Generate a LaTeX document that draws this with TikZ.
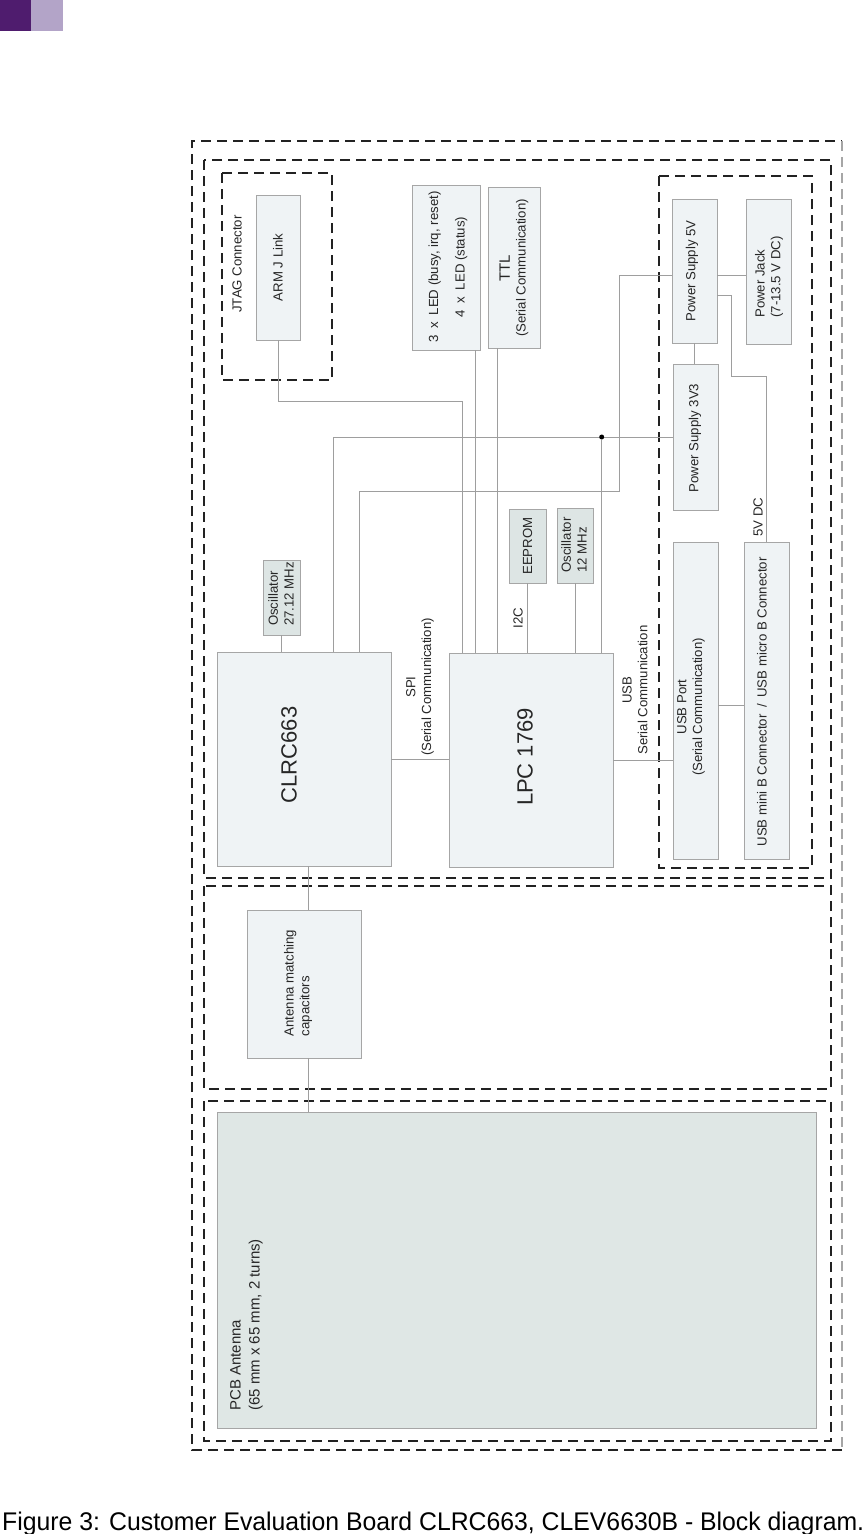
\documentclass[tikz,border=0pt]{standalone}
\usepackage{fontspec}
\setmainfont{Liberation Sans}
\usepackage{graphicx}
\definecolor{boxfill}{HTML}{EFF3F5}
\definecolor{boxdark}{HTML}{DDE5E4}
\definecolor{pcbfill}{HTML}{DFE7E5}
\definecolor{boxline}{HTML}{A6A6A6}
\definecolor{wirec}{HTML}{9E9E9E}
\definecolor{dashc}{HTML}{222222}
\definecolor{txt}{HTML}{262626}
\definecolor{purpleA}{HTML}{4F1C6E}
\definecolor{purpleB}{HTML}{B3A4C8}
\begin{document}
\begin{tikzpicture}[x=1pt,y=-1pt,
 blk/.style={draw=boxline, fill=boxfill, line width=0.8pt, inner sep=0pt, rectangle},
 blkd/.style={blk, fill=boxdark},
 wire/.style={draw=wirec, line width=0.8pt},
 zone/.style={draw=dashc, line width=1.8pt, dash pattern=on 10pt off 6pt},
 lbl/.style={rotate=90, text=txt, font=\fontsize{13.2}{15.8}\selectfont, inner sep=0pt, align=center},
 big/.style={rotate=90, text=txt, font=\fontsize{22}{26}\selectfont, inner sep=0pt},
 dot/.style={circle, fill=black, inner sep=0pt, minimum size=5pt},
]
\useasboundingbox (0,0) rectangle (866,1534);
% header squares
\fill[purpleA] (0,0) rectangle (31,31);
\fill[purpleB] (31,0) rectangle (63,31);

% dashed zones
\draw[zone] (842,1450) -- (192,1450) -- (192,141) -- (842,141);
\draw[zone, draw=gray!70, line width=1.2pt] (842,141) -- (842,1450);
\draw[zone] (204,160) rectangle (831,878);
\draw[zone] (204,886) rectangle (831,1089);
\draw[zone] (204,1101) rectangle (831,1441);
\draw[zone] (222,173) rectangle (332,380);
\draw[zone] (659,176) rectangle (812,868);

% blocks
\node[blk, minimum width=44pt, minimum height=145pt] (arm) at (278,267.5) {};
\node[blk, minimum width=68pt, minimum height=165pt] (led) at (446,267.5) {};
\node[blk, minimum width=52pt, minimum height=161pt] (ttl) at (514,267.5) {};
\node[blk, minimum width=45pt, minimum height=144pt] (ps5) at (694.5,271) {};
\node[blk, minimum width=45pt, minimum height=145pt] (jack) at (768.5,271.5) {};
\node[blk, minimum width=45pt, minimum height=146pt] (ps33) at (695.5,437) {};
\node[blkd, minimum width=37pt, minimum height=74pt] (eeprom) at (527.5,546) {};
\node[blkd, minimum width=36pt, minimum height=75pt] (osc12) at (575,545.5) {};
\node[blkd, minimum width=37pt, minimum height=75pt] (osc27) at (281.5,597.5) {};
\node[blk, minimum width=174pt, minimum height=214pt] (clrc) at (304,759) {};
\node[blk, minimum width=164pt, minimum height=214pt] (lpc) at (531,760) {};
\node[blk, minimum width=45pt, minimum height=317pt] (usbp) at (695.5,700.5) {};
\node[blk, minimum width=45pt, minimum height=317pt] (usbm) at (766.5,700.5) {};
\node[blk, minimum width=114pt, minimum height=148pt] (match) at (304,984) {};
\node[blk, fill=pcbfill, minimum width=599pt, minimum height=316pt] (pcb) at (516.5,1270) {};

% wires
\coordinate (armbend) at (462.7,401);
\draw[wire] (arm.south) |- (armbend) -- (armbend |- lpc.north);
\coordinate (ledout) at ([xshift=-5pt]led.south east);
\draw[wire] (ledout) -- (ledout |- lpc.north);
\coordinate (ttlout) at ([xshift=10pt]ttl.south west);
\draw[wire] (ttlout) -- (ttlout |- lpc.north);
\coordinate (clrcin1) at ([xshift=117pt]clrc.north west);
\draw[wire] (ps33.west) -| (clrcin1);
\node[dot] (jn) at (601.7,437) {};
\draw[wire] (jn) -- (jn |- lpc.north);
\coordinate (ps5l) at ([yshift=-4pt]ps5.west);
\coordinate (b5) at (619.3,491.7);
\coordinate (clrcin2) at ([xshift=143pt]clrc.north west);
\draw[wire] (ps5l) -| (b5) -| (clrcin2);
\coordinate (ps5r) at ([yshift=-4pt]ps5.east);
\draw[wire] (ps5r) -- (ps5r -| jack.west);
\draw[wire] (ps5.south) -- (ps5.south |- ps33.north);
\coordinate (ps5r2) at ([yshift=-24pt]ps5.east);
\coordinate (b6) at (731.7,376);
\draw[wire] (ps5r2) -| (b6) -| (usbm.north);
\coordinate (usbpr) at ([yshift=-4.5pt]usbp.east);
\draw[wire] (usbpr) -- (usbpr -| usbm.west);
\draw[wire] (lpc.east) -- (lpc.east -| usbp.west);
\draw[wire] (clrc.east) -- (clrc.east -| lpc.west);
\draw[wire] (osc27.south) -- (osc27.south |- clrc.north);
\draw[wire] (eeprom.south) -- (eeprom.south |- lpc.north);
\draw[wire] (osc12.south) -- (osc12.south |- lpc.north);
\coordinate (cm) at ([xshift=4pt]clrc.south);
\draw[wire] (cm) -- (cm |- match.north);
\coordinate (mp) at ([xshift=4pt]match.south);
\draw[wire] (mp) -- (mp |- pcb.north);

% texts
\node[lbl] (tjtag) at (237,264) {JTAG Connector};
\node[lbl] (tarm) at (arm.center) {ARM J Link};
\node[lbl, font=\fontsize{13.2}{26.5}\selectfont] (tled) at (448,267) {3\enspace x\enspace LED (busy, irq, reset)\\4\enspace x\enspace LED (status)};
\node[lbl] (tttl) at (514,268) {{\fontsize{15}{15}\selectfont TTL}\\(Serial Communication)};
\node[lbl] (tps5) at (692,271) {Power Supply 5V};
\node[lbl, align=left] (tjack) at (769,277) {Power Jack\\(7-13.5 V DC)};
\node[lbl] (tps33) at (695,438) {Power Supply 3V3};
\node[lbl] (teeprom) at (eeprom.center) {EEPROM};
\node[lbl, align=left] (tosc12) at (574,545) {Oscillator\\12 MHz};
\node[lbl, align=left] (tosc27) at (281,594) {Oscillator\\27.12 MHz};
\node[big] (tclrc) at (289,755) {CLRC663};
\node[big] (tlpc) at (525,757) {LPC 1769};
\node[lbl] (tspi) at (420,687) {SPI\\(Serial Communication)};
\node[lbl] (ti2c) at (518,618) {I2C};
\node[lbl] (tusb) at (635,690) {USB\\Serial Communication};
\node[lbl] (tusbp) at (691,707) {USB Port\\(Serial Communication)};
\node[lbl] (tusbm) at (762,702) {USB mini B Connector\enspace/\enspace USB micro B Connector};
\node[lbl] (t5v) at (758,517) {5V DC};
\node[lbl, align=left] (tmatch) at (298,983) {Antenna matching\\capacitors};
\node[lbl, align=left, anchor=north west, font=\fontsize{15}{19}\selectfont] (tpcb) at (230,1411) {PCB Antenna\\(65 mm x 65 mm, 2 turns)};

% caption
\node[anchor=base west, inner sep=0pt, text=black] (cap) at (2,1530) {\resizebox{862pt}{18.5pt}{Figure 3: Customer Evaluation Board CLRC663, CLEV6630B - Block diagram.}};
\end{tikzpicture}
\end{document}
